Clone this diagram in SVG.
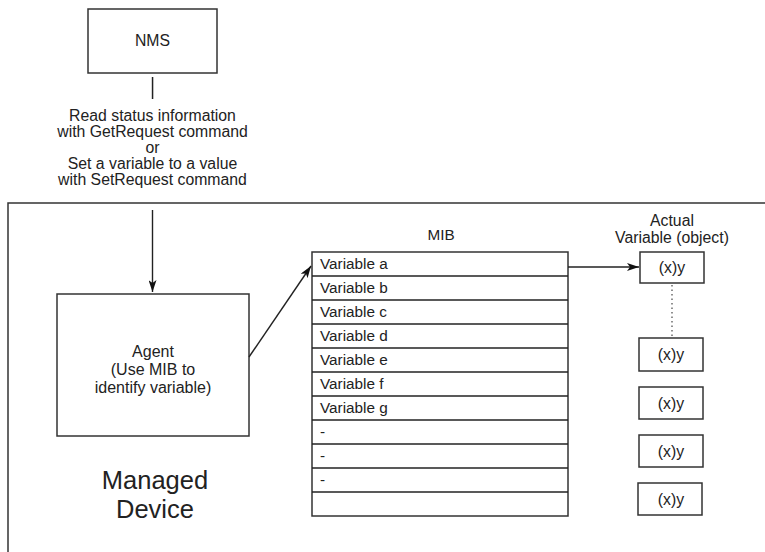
<svg xmlns="http://www.w3.org/2000/svg" width="765" height="552" viewBox="0 0 765 552">
  <style>
    .box { fill: #fff; stroke: #333; stroke-width: 1.5; }
    .line { fill: none; stroke: #222; stroke-width: 1.4; }
    .dot { fill: none; stroke: #555; stroke-width: 1.3; stroke-dasharray: 1.5 3; }
    text { font-family: "Liberation Sans", Arial, sans-serif; fill: #222; }
    .t { font-size: 15.8px; text-anchor: middle; }
    .row { font-size: 15.3px; }
    .big { font-size: 25.5px; text-anchor: middle; }
  </style>
  <defs>
    <marker id="arrow" viewBox="0 0 12 8" refX="12" refY="4" markerWidth="12" markerHeight="8" markerUnits="userSpaceOnUse" orient="auto">
      <path d="M0,0 L12,4 L0,8 L3,4 Z" fill="#111"/>
    </marker>
  </defs>

  <!-- managed device enclosure -->
  <g id="managed-device">
    <rect class="box" x="8" y="203" width="780" height="380"/>
    <text class="big" x="155" y="489">Managed</text>
    <text class="big" x="155" y="518">Device</text>
  </g>

  <g id="nms">
    <rect class="box" x="88" y="9" width="129" height="64"/>
    <text class="t" x="152.5" y="46">NMS</text>
  </g>

  <g id="request-label">
    <text class="t" x="152.5" y="121">Read status information</text>
    <text class="t" x="152.5" y="137">with GetRequest command</text>
    <text class="t" x="152.5" y="153">or</text>
    <text class="t" x="152.5" y="169">Set a variable to a value</text>
    <text class="t" x="152.5" y="185">with SetRequest command</text>
  </g>

  <g id="agent">
    <rect class="box" x="57" y="294" width="192" height="142"/>
    <text class="t" x="153" y="357" style="font-size:16px">Agent</text>
    <text class="t" x="153" y="375" style="font-size:16px">(Use MIB to</text>
    <text class="t" x="153" y="393" style="font-size:16px">identify variable)</text>
  </g>

  <g id="mib">
    <text class="t" x="441" y="240" style="font-size:15.3px">MIB</text>
    <rect class="box" x="312" y="252" width="256" height="264"/>
    <g class="line">
      <line x1="312" y1="276" x2="568" y2="276"/>
      <line x1="312" y1="300" x2="568" y2="300"/>
      <line x1="312" y1="324" x2="568" y2="324"/>
      <line x1="312" y1="348" x2="568" y2="348"/>
      <line x1="312" y1="372" x2="568" y2="372"/>
      <line x1="312" y1="396" x2="568" y2="396"/>
      <line x1="312" y1="420" x2="568" y2="420"/>
      <line x1="312" y1="444" x2="568" y2="444"/>
      <line x1="312" y1="468" x2="568" y2="468"/>
      <line x1="312" y1="492" x2="568" y2="492"/>
    </g>
    <text class="row" x="320" y="269">Variable a</text>
    <text class="row" x="320" y="293">Variable b</text>
    <text class="row" x="320" y="317">Variable c</text>
    <text class="row" x="320" y="341">Variable d</text>
    <text class="row" x="320" y="365">Variable e</text>
    <text class="row" x="320" y="389">Variable f</text>
    <text class="row" x="320" y="413">Variable g</text>
    <text class="row" x="320" y="437">-</text>
    <text class="row" x="320" y="461">-</text>
    <text class="row" x="320" y="485">-</text>
  </g>

  <g id="actual-variables">
    <text class="t" x="672" y="226">Actual</text>
    <text class="t" x="672" y="243">Variable (object)</text>
    <g id="var-1">
      <rect class="box" x="640" y="252" width="64" height="31"/>
      <text class="t" x="672" y="273">(x)y</text>
    </g>
    <g id="var-2">
      <rect class="box" x="639" y="338" width="64" height="33"/>
      <text class="t" x="671" y="360">(x)y</text>
    </g>
    <g id="var-3">
      <rect class="box" x="639" y="387" width="64" height="32"/>
      <text class="t" x="671" y="409">(x)y</text>
    </g>
    <g id="var-4">
      <rect class="box" x="639" y="435" width="64" height="32"/>
      <text class="t" x="671" y="457">(x)y</text>
    </g>
    <g id="var-5">
      <rect class="box" x="638" y="483" width="64" height="32"/>
      <text class="t" x="671" y="505">(x)y</text>
    </g>
  </g>

  <!-- connectors -->
  <g id="connectors">
    <rect x="151.8" y="77" width="1.5" height="22" fill="#222"/>
    <line class="line" x1="152.5" y1="210" x2="152.5" y2="292" marker-end="url(#arrow)"/>
    <line class="line" x1="249" y1="357" x2="311" y2="266" marker-end="url(#arrow)"/>
    <line class="line" x1="568" y1="267" x2="639" y2="267" marker-end="url(#arrow)"/>
    <line class="dot" x1="672" y1="285" x2="672" y2="337"/>
  </g>
</svg>
